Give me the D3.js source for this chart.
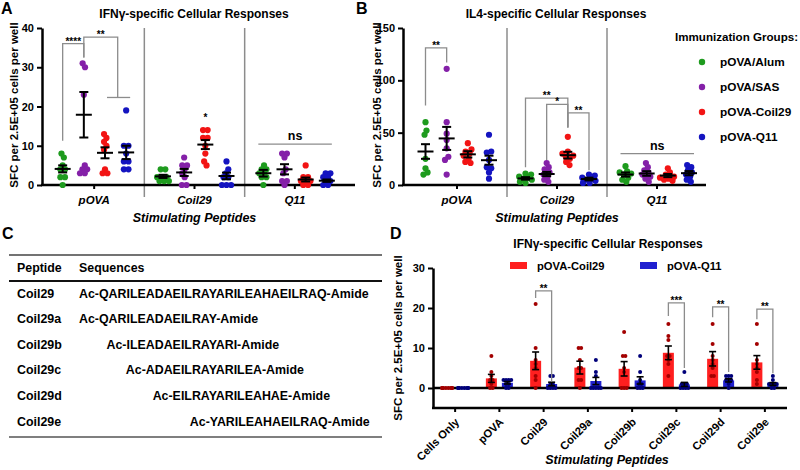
<!DOCTYPE html>
<html><head><meta charset="utf-8">
<script src="https://cdn.jsdelivr.net/npm/d3@7"></script>
<style>
body{margin:0;background:#fff}
svg{font-family:"Liberation Sans",Arial,sans-serif;font-weight:bold}
</style></head><body>
<svg id="c" width="800" height="470"></svg>
<script>
// ---------------- DATA ----------------
const groups = ["pOVA/Alum","pOVA/SAS","pOVA-Coil29","pOVA-Q11"];
const groupColors = ["#1e9b1e","#8420a8","#f21414","#1414c0"];
const peptidesAB = ["pOVA","Coil29","Q11"];
const ticksA = [0,10,20,30,40];
const ticksB = [0,50,100,150];

// Panel A: IFNγ SFC, [group][peptide]
const ifnAlum = [[8,7,5,4,4,2,2,0],[4,4,2,2,2,1,1,1],[5,4,4,3,3,2,2,0]];
const ifnSAS  = [[31,30,23,5,4,4,3,3],[7,5,5,4,3,2,0,0],[8,8,7,4,3,1,1,0]];
const ifnCoil = [[13,12,11,10,9,4,3,3],[14,14,12,12,10,8,6,5],[5,2,2,1,1,1,0,0]];
const ifnQ11  = [[19,10,10,8,6,6,4,4],[6,4,3,2,2,0,0,0],[3,3,2,2,1,1,0,0]];
const ifnMean = [[4.1,2.2,3.0],[17.9,3.2,4.0],[8.2,10.3,1.4],[8.3,2.3,1.1]];
const ifnSem  = [[0.9,0.4,0.85],[5.8,0.9,1.3],[1.4,1.15,0.5],[1.7,0.85,0.3]];

// Panel B: IL4 SFC, [group][peptide]
const il4Alum = [[60,52,48,25,16,12,10],[11,10,8,7,6,5,3,2],[18,13,12,11,10,7,5,3]];
const il4SAS  = [[111,60,49,43,35,27,24,10],[21,17,15,12,10,8,5,3],[21,17,14,12,10,8,6,3]];
const il4Coil = [[40,34,32,30,28,25,22,21],[46,32,30,28,27,25,22,19],[16,12,10,8,7,6,5,4]];
const il4Q11  = [[48,32,31,24,17,16,12,6],[10,9,7,6,5,4,2,2],[19,17,14,12,10,8,5,3]];
const il4Mean = [[32,6.3,10],[44.5,10.5,11],[29.3,28.5,9],[23.7,5.7,11.3]];
const il4Sem  = [[7,1.2,2],[11,2,2.2],[3,3.2,1.5],[4.3,1.3,2]];

// Significance annotations (data units)
const sigA = [
  {pep:0, from:0, to:1, top:36, legFrom:11.3, legTo:32.5, label:"****"},
  {pep:0, from:1, to:2.6, top:37.7, legFrom:32.5, legTo:22.3, label:"**"}
];
const spanA = [{pep:0, from:2, to:3, at:22.3}];
const starA = [{pep:1, group:2, value:17.2, label:"*"}];
const nsA = [{pep:2, value:10.4, label:"ns"}];
const sigB = [
  {pep:0, from:0, to:1, top:131, legFrom:76, legTo:117, label:"**"},
  {pep:1, from:0, to:2, top:83, legFrom:17, legTo:55, label:"**"},
  {pep:1, from:1, to:2, top:77, legFrom:24, legTo:55, label:"*"},
  {pep:1, from:2, to:3, top:69, legFrom:55, legTo:14, label:"**"}
];
const nsB = [{pep:2, value:30, label:"ns"}];

// Panel C table
const tablePeptides = ["Coil29","Coil29a","Coil29b","Coil29c","Coil29d","Coil29e"];
const tableSequences = ["QARILEADAEILRAYARILEAHAEILRAQ","QARILEADAEILRAY","ILEADAEILRAYARI","ADAEILRAYARILEA","EILRAYARILEAHAE","YARILEAHAEILRAQ"];

// Panel D
const peptidesD = ["Cells Only","pOVA","Coil29","Coil29a","Coil29b","Coil29c","Coil29d","Coil29e"];
const seriesD = ["pOVA-Coil29","pOVA-Q11"];
const ticksD = [0,10,20,30];
const dCoil = [[0,0,0,0,0,0,0,0],[8,4,3,2,2,1,0,0],[21,10,7,6,5,3,2,0],[10,10,7,5,5,2,2,0],[14,8,8,5,4,0,0,0],[16,13,12,8,8,7,6,3],[16,11,8,7,6,5,3,3],[16,11,7,6,5,4,2,1]];
const dQ11  = [[0,0,0,0,0,0,0,0],[2,2,2,2,1,1,0,0],[3,3,1,1,0,0,0,0],[7,4,3,0,0,0,0,0],[8,4,2,1,1,0,0,0],[4,1,1,1,0,0,0,0],[3,3,3,2,2,2,1,0],[3,2,1,1,1,1,0,0]];
const dCoilMean = [0,2.4,6.8,5.1,4.8,8.8,7.3,6.4];
const dCoilSem  = [0,1.0,2.2,1.6,1.8,1.7,1.8,1.7];
const dQ11Mean  = [0,1.3,1.0,1.75,1.9,0.9,1.9,1.0];
const dQ11Sem   = [0,0.3,0.45,0.9,0.9,0.5,0.4,0.35];
const sigD = [
  {pep:2, top:24.3, legFrom:22.5, legTo:1.6, label:"**"},
  {pep:5, top:21.3, legFrom:18, legTo:5, label:"***"},
  {pep:6, top:20.3, legFrom:17.7, legTo:4, label:"**"},
  {pep:7, top:19.7, legFrom:17.2, legTo:3.7, label:"**"}
];

// ---------------- DRAWING ----------------
const svg = d3.select("#c");
const GRAY = "#8c8c8c";

function swarm(vals, cx, y, r, maxDx) {
  const nodes = vals.map((v,i)=>({x: cx + (i%2?1:-1)*(0.3+i*0.2), fy: y(v), y: y(v)}));
  const sim = d3.forceSimulation(nodes)
    .force("x", d3.forceX(cx).strength(0.12))
    .force("c", d3.forceCollide(r)).stop();
  for (let i=0;i<250;i++) sim.tick();
  nodes.forEach(n => { n.x = Math.max(cx-maxDx, Math.min(cx+maxDx, n.x)); });
  return nodes;
}

function styleAxis(a, fs) {
  a.select(".domain").attr("stroke","#000").attr("stroke-width",2.5);
  a.selectAll(".tick line").attr("stroke","#000").attr("stroke-width",2);
  a.selectAll(".tick text").attr("fill","#000").attr("font-size",fs)
    .attr("font-family","Liberation Sans, Arial, sans-serif").attr("font-weight","bold");
}

function text(g, x, y, s, fs, opts={}) {
  const t = g.append("text").attr("x",x).attr("y",y).text(s).attr("font-size",fs)
    .attr("text-anchor", opts.anchor || "start").attr("fill", opts.fill || "#000");
  if (opts.italic) t.attr("font-style","italic");
  if (opts.transform) t.attr("transform", opts.transform);
  return t;
}

function scatterPanel(cfg) {
  const g = svg.append("g");
  const y = d3.scaleLinear().domain(cfg.yDomain).range([185, 28]);
  const x = d3.scaleBand().domain(peptidesAB).range(cfg.bandRange);
  const off = d3.scaleLinear().domain([0,3]).range([-31.5, 32]);
  const gx = (p,gi) => x(peptidesAB[p]) + x.bandwidth()/2 + off(gi);

  peptidesAB.slice(1).forEach(p => {
    g.append("line").attr("x1",x(p)).attr("x2",x(p)).attr("y1",28).attr("y2",197)
      .attr("stroke",GRAY).attr("stroke-width",1.5);
  });
  g.append("g").attr("transform",`translate(${cfg.yAxisX},0)`)
    .call(d3.axisLeft(y).tickValues(cfg.yTicks).tickSize(5).tickSizeOuter(0).tickPadding(3))
    .call(a => styleAxis(a, 11));
  g.append("g").attr("transform",`translate(0,${y(0)})`)
    .call(d3.axisBottom(x).tickSize(4).tickSizeOuter(0).tickPadding(7))
    .call(a => { styleAxis(a, 11.5); a.select(".domain").remove(); a.selectAll(".tick text").attr("font-style","italic"); });
  g.append("line").attr("x1",cfg.yAxisX-1).attr("x2",cfg.axisEnd).attr("y1",y(0)).attr("y2",y(0))
    .attr("stroke","#000").attr("stroke-width",2.5);

  cfg.values.forEach((gv, gi) => {
    gv.forEach((vals, pi) => {
      const nodes = swarm(vals, gx(pi,gi), y, 2.3, 8);
      g.selectAll(null).data(nodes).join("circle")
        .attr("cx", d=>d.x).attr("cy", d=>d.y).attr("r",3.1)
        .attr("fill", groupColors[gi]);
    });
  });
  cfg.means.forEach((gm, gi) => {
    gm.forEach((m, pi) => {
      const cx = gx(pi,gi), s = cfg.sems[gi][pi];
      const e = g.append("g").attr("stroke","#000").attr("stroke-width",2);
      e.append("line").attr("x1",cx-8).attr("x2",cx+8).attr("y1",y(m)).attr("y2",y(m));
      e.append("line").attr("x1",cx).attr("x2",cx).attr("y1",y(m-s)).attr("y2",y(m+s));
      e.append("line").attr("x1",cx-4.5).attr("x2",cx+4.5).attr("y1",y(m-s)).attr("y2",y(m-s));
      e.append("line").attr("x1",cx-4.5).attr("x2",cx+4.5).attr("y1",y(m+s)).attr("y2",y(m+s));
    });
  });
  cfg.sig.forEach(b => {
    const x1 = gx(b.pep,b.from), x2 = gx(b.pep,b.to);
    g.append("path").attr("fill","none").attr("stroke",GRAY).attr("stroke-width",1.3)
      .attr("d",`M${x1},${y(b.legFrom)}V${y(b.top)}H${x2}V${y(b.legTo)}`);
    text(g,(x1+x2)/2, y(b.top)+1, b.label, 10, {anchor:"middle"});
  });
  (cfg.spans||[]).forEach(b => {
    g.append("line").attr("x1",gx(b.pep,b.from)+2).attr("x2",gx(b.pep,b.to)+4)
      .attr("y1",y(b.at)).attr("y2",y(b.at)).attr("stroke",GRAY).attr("stroke-width",1.3);
  });
  (cfg.stars||[]).forEach(b => text(g, gx(b.pep,b.group), y(b.value)+4, b.label, 10, {anchor:"middle"}));
  cfg.ns.forEach(b => {
    const x1 = gx(b.pep,0)-5, x2 = gx(b.pep,3)+5;
    g.append("line").attr("x1",x1).attr("x2",x2).attr("y1",y(b.value)).attr("y2",y(b.value))
      .attr("stroke",GRAY).attr("stroke-width",1.3);
    text(g,(x1+x2)/2, y(b.value)-4, b.label, 12.5, {anchor:"middle"});
  });
  text(g, cfg.titleX, 18, cfg.title, 12, {anchor:"middle"});
  text(g, cfg.letterX, 14, cfg.letter, 16);
  text(g, 0, 0, "SFC per 2.5E+05 cells per well", 11.5, {anchor:"middle",
    transform:`translate(${cfg.yLabelX},105) rotate(-90)`});
  text(g, (x.range()[0]+x.range()[1])/2, 222, "Stimulating Peptides", 12.5, {anchor:"middle", italic:true});
}

scatterPanel({yAxisX:42, axisEnd:355, bandRange:[44,345], yDomain:[0,40], yTicks:ticksA,
  values:[ifnAlum, ifnSAS, ifnCoil, ifnQ11], means:ifnMean, sems:ifnSem,
  sig:sigA, spans:spanA, stars:starA, ns:nsA,
  title:"IFNγ-specific Cellular Responses", titleX:194, letter:"A", letterX:1, yLabelX:18});
scatterPanel({yAxisX:403, axisEnd:706, bandRange:[407,707], yDomain:[0,150], yTicks:ticksB,
  values:[il4Alum, il4SAS, il4Coil, il4Q11], means:il4Mean, sems:il4Sem,
  sig:sigB, ns:nsB,
  title:"IL4-specific Cellular Responses", titleX:556, letter:"B", letterX:356, yLabelX:381});

{
  const g = svg.append("g");
  text(g, 675, 41, "Immunization Groups:", 11.6);
  const ly = d3.scalePoint().domain(groups).range([62,137]);
  groups.forEach((n,i) => {
    g.append("circle").attr("cx",702).attr("cy",ly(n)).attr("r",3.2).attr("fill",groupColors[i]);
    text(g, 720, ly(n)+4, n, 11.8);
  });
}

// ---------------- Panel C ----------------
{
  const g = svg.append("g");
  const fs = 12.4;
  text(g, 2, 239, "C", 16);
  g.append("line").attr("x1",9).attr("x2",382).attr("y1",255).attr("y2",255).attr("stroke","#444").attr("stroke-width",1.5);
  g.append("line").attr("x1",9).attr("x2",382).attr("y1",281).attr("y2",281).attr("stroke","#111").attr("stroke-width",2.2);
  g.append("line").attr("x1",9).attr("x2",382).attr("y1",437).attr("y2",437).attr("stroke","#555").attr("stroke-width",1.5);
  text(g, 17, 272, "Peptide", fs);
  text(g, 79, 272, "Sequences", fs);
  const ry = d3.scalePoint().domain(tablePeptides).range([293,421]);
  const meas = g.append("text").attr("font-size",fs).attr("visibility","hidden");
  const w = s => { meas.text(s); return meas.node().getComputedTextLength(); };
  const full = tableSequences[0];
  const acW = w("Ac-");
  tablePeptides.forEach((p,i) => {
    const seq = tableSequences[i];
    const idx = full.indexOf(seq);
    const dx = idx > 0 ? w("Ac-" + full.slice(0, idx)) - acW : 0;
    text(g, 17, ry(p)+4.5, p, fs);
    text(g, 79 + dx, ry(p)+4.5, "Ac-" + seq + "-Amide", fs);
  });
  meas.remove();
}

// ---------------- Panel D ----------------
{
  const g = svg.append("g");
  const y = d3.scaleLinear().domain([-5,30]).range([408,268]);
  const x = d3.scaleBand().domain(peptidesD).range([433,787]);
  const sub = d3.scalePoint().domain(seriesD).range([-8,8]);
  const bw = 11;
  const barFill = ["#ff1f1f","#2020d0"], dotFill = ["#a30000","#00007a"];
  const means = [dCoilMean, dQ11Mean], sems = [dCoilSem, dQ11Sem], vals = [dCoil, dQ11];
  const cx = (pi, si) => x(peptidesD[pi]) + x.bandwidth()/2 + sub(seriesD[si]);

  text(g, 390, 239, "D", 16);
  text(g, 608, 248, "IFNγ-specific Cellular Responses", 12, {anchor:"middle"});
  seriesD.forEach((s,si) => {
    const lx = si === 0 ? 510 : 640;
    g.append("rect").attr("x",lx).attr("y",262).attr("width",17).attr("height",7).attr("fill",barFill[si]);
    text(g, lx+27, 269.5, s, 11.2);
  });
  g.append("g").attr("transform","translate(433,0)")
    .call(d3.axisLeft(y).tickValues(ticksD).tickSize(5).tickSizeOuter(0).tickPadding(3))
    .call(a => styleAxis(a, 11));
  g.append("g").attr("transform",`translate(0,${y(-5)})`)
    .call(d3.axisBottom(x).tickSize(4).tickSizeOuter(0))
    .call(a => {
      styleAxis(a, 11.2);
      a.select(".domain").remove();
      a.selectAll(".tick text").attr("y",0).attr("dy","0.35em")
        .attr("transform","translate(2,12) rotate(-45)").attr("text-anchor","end");
    });
  g.append("line").attr("x1",432).attr("x2",787).attr("y1",y(-5)).attr("y2",y(-5)).attr("stroke","#000").attr("stroke-width",2.5);
  means.forEach((mArr, si) => {
    mArr.forEach((m, pi) => {
      g.append("rect").attr("x",cx(pi,si)-bw/2).attr("width",bw)
        .attr("y",y(m)).attr("height",Math.max(0,y(0)-y(m)))
        .attr("fill",barFill[si]);
    });
  });
  g.append("line").attr("x1",433).attr("x2",787).attr("y1",y(0)).attr("y2",y(0)).attr("stroke","#000").attr("stroke-width",2.5);
  vals.forEach((vArr, si) => {
    vArr.forEach((v, pi) => {
      const nodes = swarm(v, cx(pi,si), y, 1.3, 5);
      g.selectAll(null).data(nodes).join("circle").attr("cx",d=>d.x).attr("cy",d=>d.y)
        .attr("r",2).attr("fill",dotFill[si]);
    });
  });
  means.forEach((mArr, si) => {
    mArr.forEach((m, pi) => {
      const s = sems[si][pi]; if (!s) return;
      const c = cx(pi,si);
      const e = g.append("g").attr("stroke","#000").attr("stroke-width",1.6);
      e.append("line").attr("x1",c).attr("x2",c).attr("y1",y(m-s)).attr("y2",y(m+s));
      e.append("line").attr("x1",c-3.5).attr("x2",c+3.5).attr("y1",y(m+s)).attr("y2",y(m+s));
      e.append("line").attr("x1",c-3.5).attr("x2",c+3.5).attr("y1",y(m-s)).attr("y2",y(m-s));
    });
  });
  sigD.forEach(b => {
    const x1 = cx(b.pep,0), x2 = cx(b.pep,1);
    g.append("path").attr("fill","none").attr("stroke",GRAY).attr("stroke-width",1.3)
      .attr("d",`M${x1},${y(b.legFrom)}V${y(b.top)}H${x2}V${y(b.legTo)}`);
    text(g,(x1+x2)/2, y(b.top)+1, b.label, 10, {anchor:"middle"});
  });
  text(g, 0, 0, "SFC per 2.5E+05 cells per well", 11.5, {anchor:"middle", transform:"translate(402,338) rotate(-90)"});
  text(g, 607, 464, "Stimulating Peptides", 12.5, {anchor:"middle", italic:true});
}
</script>
</body></html>
